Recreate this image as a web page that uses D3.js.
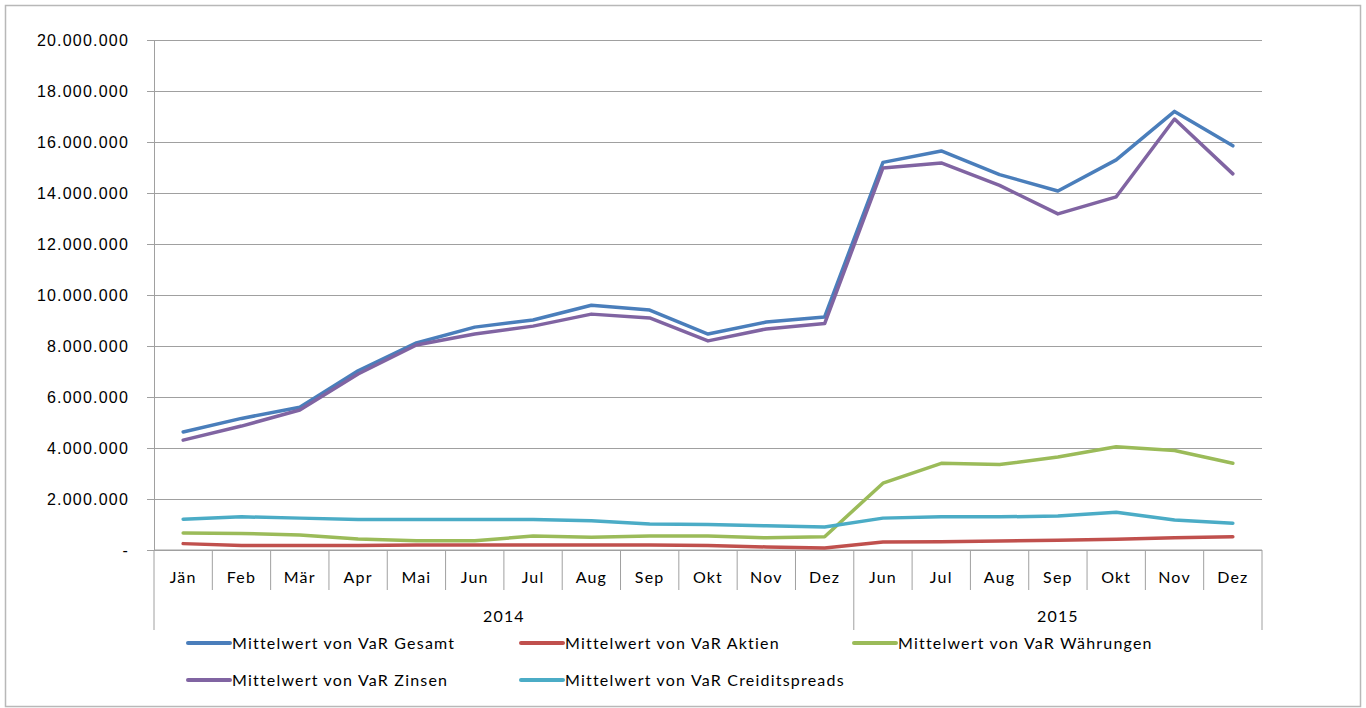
<!DOCTYPE html>
<html>
<head>
<meta charset="utf-8">
<script src="https://cdn.jsdelivr.net/npm/d3@7"></script>
<style>
  body { margin: 0; background: #fff; }
  svg { font-family: Lato, "Open Sans", sans-serif; letter-spacing: 1.2px; }
</style>
</head>
<body>
<div id="chart"></div>
<script>
const months = ["Jän", "Feb", "Mär", "Apr", "Mai", "Jun", "Jul", "Aug", "Sep", "Okt", "Nov", "Dez",
                "Jun", "Jul", "Aug", "Sep", "Okt", "Nov", "Dez"];
const years = [
    { label: "2014", start: 0, end: 12 },
    { label: "2015", start: 12, end: 19 }
];
const yTicks = [0, 2000000, 4000000, 6000000, 8000000, 10000000, 12000000, 14000000, 16000000, 18000000, 20000000];

const gesamt = [4630000, 5160000, 5600000, 7030000, 8120000, 8740000, 9020000, 9600000, 9410000, 8470000, 8940000, 9140000,
                15200000, 15650000, 14720000, 14080000, 15300000, 17200000, 15850000];
const aktien = [250000, 180000, 180000, 180000, 200000, 200000, 200000, 200000, 200000, 180000, 120000, 80000,
                310000, 320000, 350000, 380000, 420000, 480000, 520000];
const waehrungen = [670000, 650000, 590000, 430000, 360000, 360000, 550000, 500000, 550000, 550000, 480000, 520000,
                    2620000, 3400000, 3350000, 3650000, 4050000, 3900000, 3400000];
const zinsen = [4310000, 4860000, 5490000, 6900000, 8040000, 8470000, 8780000, 9250000, 9100000, 8200000, 8670000, 8880000,
                14980000, 15180000, 14300000, 13180000, 13850000, 16900000, 14750000];
const creditspreads = [1210000, 1300000, 1250000, 1200000, 1200000, 1200000, 1200000, 1150000, 1020000, 1000000, 950000, 900000,
                       1250000, 1300000, 1300000, 1330000, 1480000, 1180000, 1050000];

const series = [
    { name: "Mittelwert von VaR Gesamt", values: gesamt, color: "#4a7ebb" },
    { name: "Mittelwert von VaR Aktien", values: aktien, color: "#c0504d" },
    { name: "Mittelwert von VaR Währungen", values: waehrungen, color: "#9bbb59" },
    { name: "Mittelwert von VaR Zinsen", values: zinsen, color: "#8064a2" },
    { name: "Mittelwert von VaR Creiditspreads", values: creditspreads, color: "#4bacc6" }
];

const W = 1366, H = 708;
const margin = { top: 40, left: 154, right: 104, bottom: 158 };
const width = W - margin.left - margin.right;
const height = H - margin.top - margin.bottom;

const svg = d3.select("#chart").append("svg")
    .attr("width", W)
    .attr("height", H);

// outer frame
svg.append("rect")
    .attr("x", 5.5).attr("y", 5.5)
    .attr("width", W - 11).attr("height", H - 7)
    .attr("fill", "none")
    .attr("stroke", "#b8b8b8")
    .attr("stroke-width", 1.5);

const g = svg.append("g").attr("transform", `translate(${margin.left},${margin.top})`);

const x = d3.scaleBand().domain(d3.range(months.length)).range([0, width]);
const y = d3.scaleLinear().domain([0, 20000000]).range([height, 0]);

const fmt = d => d === 0 ? "-" : d3.format(",")(d).replace(/,/g, ".");

// gridlines
g.append("g")
    .call(d3.axisLeft(y).tickValues(yTicks).tickSize(-width).tickFormat(""))
    .call(s => s.select(".domain").remove())
    .call(s => s.selectAll("line").attr("stroke", "#a0a0a0"));

// y axis
g.append("g")
    .call(d3.axisLeft(y).tickValues(yTicks).tickSize(7).tickPadding(18).tickFormat(fmt))
    .call(s => s.select(".domain").attr("stroke", "#a0a0a0"))
    .call(s => s.selectAll("line").attr("stroke", "#a0a0a0"))
    .call(s => s.selectAll("text").attr("fill", "#000").style("font-size", "16px"));

// x axis: month labels and separators
const xAxis = g.append("g").attr("transform", `translate(0,${height})`);
xAxis.append("line")
    .attr("x1", 0).attr("x2", width)
    .attr("stroke", "#a0a0a0");

const seps = d3.range(months.length + 1);
xAxis.selectAll(".sep")
    .data(seps)
    .enter()
    .append("line")
    .attr("class", "sep")
    .attr("x1", i => i === months.length ? width : x(i))
    .attr("x2", i => i === months.length ? width : x(i))
    .attr("y1", 0)
    .attr("y2", i => (i === 0 || i === 12 || i === months.length) ? 80 : 40)
    .attr("stroke", "#a0a0a0");

xAxis.selectAll(".month")
    .data(months)
    .enter()
    .append("text")
    .attr("x", (d, i) => x(i) + x.bandwidth() / 2)
    .attr("y", 33)
    .attr("text-anchor", "middle")
    .style("font-size", "16px")
    .text(d => d);

xAxis.selectAll(".year")
    .data(years)
    .enter()
    .append("text")
    .attr("x", d => (x(d.start) + (d.end === months.length ? width : x(d.end))) / 2)
    .attr("y", 72)
    .attr("text-anchor", "middle")
    .style("font-size", "16px")
    .text(d => d.label);

// lines
const line = d3.line()
    .x((d, i) => x(i) + x.bandwidth() / 2)
    .y(d => y(d));

g.selectAll(".series")
    .data(series)
    .enter()
    .append("path")
    .attr("class", "series")
    .attr("fill", "none")
    .attr("stroke", d => d.color)
    .attr("stroke-width", 3.5)
    .attr("stroke-linejoin", "round")
    .attr("stroke-linecap", "round")
    .attr("d", d => line(d.values));

// legend
const legendPos = [[188, 643], [521, 643], [854, 643], [188, 680], [521, 680]];
const legend = svg.selectAll(".legend")
    .data(series)
    .enter()
    .append("g")
    .attr("class", "legend")
    .attr("transform", (d, i) => `translate(${legendPos[i][0]},${legendPos[i][1]})`);

legend.append("line")
    .attr("x1", 0).attr("x2", 42)
    .attr("stroke", d => d.color)
    .attr("stroke-width", 4)
    .attr("stroke-linecap", "round");

legend.append("text")
    .attr("x", 44)
    .attr("y", 6)
    .style("font-size", "16px")
    .text(d => d.name);
</script>
</body>
</html>
